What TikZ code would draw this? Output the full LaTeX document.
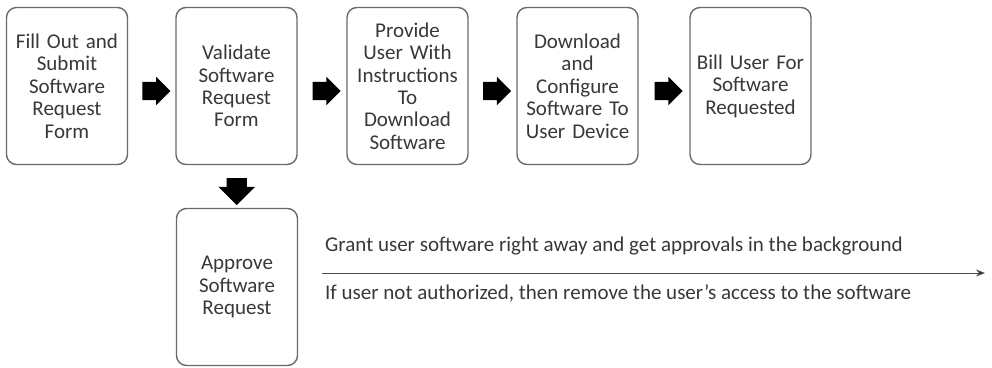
\documentclass[tikz,border=0pt]{standalone}
\usepackage{fontspec}
\setmainfont{Carlito}
\usetikzlibrary{shapes.arrows,arrows.meta,calc}
\definecolor{txt}{HTML}{383838}
\definecolor{edge}{HTML}{6A6A6A}
\tikzset{
  stepbox/.style={draw=edge, line width=1.4pt, rounded corners=10pt,
    minimum width=121pt, minimum height=157pt, inner sep=2pt,
    align=center, text width=116pt, text=txt,
    font=\fontsize{21pt}{22.4pt}\selectfont},
  blockarrow/.style={single arrow, fill=black, draw=none,
    inner xsep=0pt, inner ysep=9pt, minimum height=28pt,
    single arrow head extend=5pt, single arrow tip angle=90},
  note/.style={anchor=west, text=txt, inner sep=0pt,
    font=\fontsize{21pt}{24pt}\selectfont}
}
\begin{document}
\begin{tikzpicture}[x=1pt,y=-1pt]
\useasboundingbox (0,0) rectangle (992,367);

% process steps
\node[stepbox] (fill)     at (67,86)    {Fill Out and\\Submit\\Software\\Request\\Form};
\node[stepbox] (validate) at (236.5,86) {Validate\\Software\\Request\\Form};
\node[stepbox] (provide)  at (407.5,86) {Provide\\User With\\Instructions\\To\\Download\\Software};
\node[stepbox] (config)   at (577.5,86) {Download\\and\\Configure\\Software To\\User Device};
\node[stepbox] (bill)     at (750.5,86) {Bill User For\\Software\\Requested};
\node[stepbox] (approve)  at (237,287)  {Approve\\Software\\Request};

% block arrows between steps
\node[blockarrow] (a1) at ($(fill.east)!0.5!(validate.west)+(0,5)$) {};
\node[blockarrow] (a2) at ($(validate.east)!0.5!(provide.west)+(0,5)$) {};
\node[blockarrow] (a3) at ($(provide.east)!0.5!(config.west)+(0,5)$) {};
\node[blockarrow] (a4) at ($(config.east)!0.5!(bill.west)+(0,5)$) {};
\node[blockarrow, rotate=-90, inner ysep=10pt,
      single arrow head extend=8pt, minimum height=27pt]
      (a5) at ($(validate.south)!0.5!(approve.north)$) {};

% timeline with notes
\coordinate (tl0) at (322,273);
\coordinate (tl1) at (985,273);
\draw[line width=1pt, draw=black!70, -{Stealth[length=9pt,width=7pt,fill=black]}] (tl0) -- (tl1);
\node[note] (grant) at ($(tl0)+(3,-27)$) {Grant user software right away and get approvals in the background};
\node[note] (revoke) at ($(tl0)+(3,20)$) {If user not authorized, then remove the user’s access to the software};
\end{tikzpicture}
\end{document}
